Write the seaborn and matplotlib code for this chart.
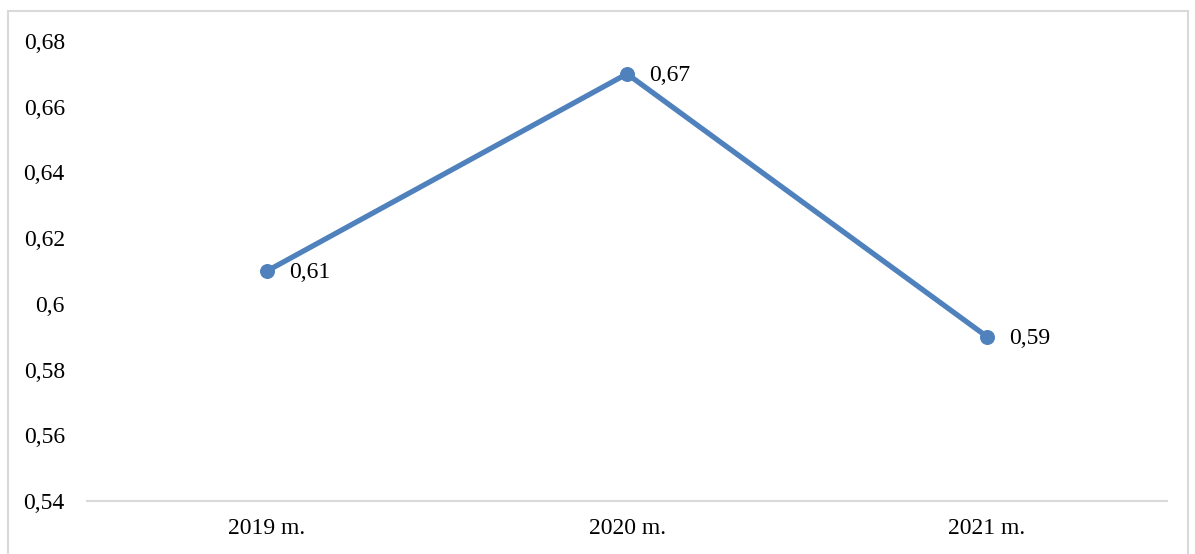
import matplotlib
matplotlib.use("Agg")
import matplotlib.pyplot as plt
import seaborn as sns
import pandas as pd
from matplotlib.patches import Rectangle

years = ["2019 m.", "2020 m.", "2021 m."]
values = [0.61, 0.67, 0.59]
yticks = [0.54, 0.56, 0.58, 0.60, 0.62, 0.64, 0.66, 0.68]
ytick_labels = ["0,54", "0,56", "0,58", "0,6", "0,62", "0,64", "0,66", "0,68"]
point_labels = ["0,61", "0,67", "0,59"]

sns.set_style("white")
plt.rcParams['font.family'] = ['Liberation Serif', 'DejaVu Serif']

df = pd.DataFrame({"year": years, "value": values})
color = "#4F81BD"

fig = plt.figure(figsize=(11.95, 5.54), dpi=100)
ax = fig.add_axes([0.0728, 0.0957, 0.9038, 0.8303])

sns.lineplot(data=df, x="year", y="value", ax=ax, color=color, linewidth=3.8,
             marker="o", markersize=10, markeredgecolor=color, sort=False)

for i, (v, lab) in enumerate(zip(values, point_labels)):
    ax.annotate(lab, (i, v), xytext=(16, -1), textcoords="offset points",
                ha="left", va="center", fontsize=17, color="black")

ax.set_xlim(-0.5, 2.5)
ax.set_ylim(0.54, 0.68)
ax.set_yticks(yticks)
ax.set_yticklabels(ytick_labels)
ax.set_xlabel("")
ax.set_ylabel("")
ax.tick_params(axis="both", length=0, labelsize=17, colors="black")
ax.tick_params(axis="y", pad=16)
ax.tick_params(axis="x", pad=12)
for s in ["top", "right", "left"]:
    ax.spines[s].set_visible(False)
ax.spines["bottom"].set_color("#D9D9D9")
ax.spines["bottom"].set_linewidth(1.5)
ax.grid(False)

fig.patches.append(Rectangle((8 / 1195, -0.05), (1188 - 8) / 1195, 1.05 - 11 / 554,
                             transform=fig.transFigure, fill=False,
                             edgecolor="#D9D9D9", linewidth=1.5))

fig.savefig("out.png", dpi=100)
